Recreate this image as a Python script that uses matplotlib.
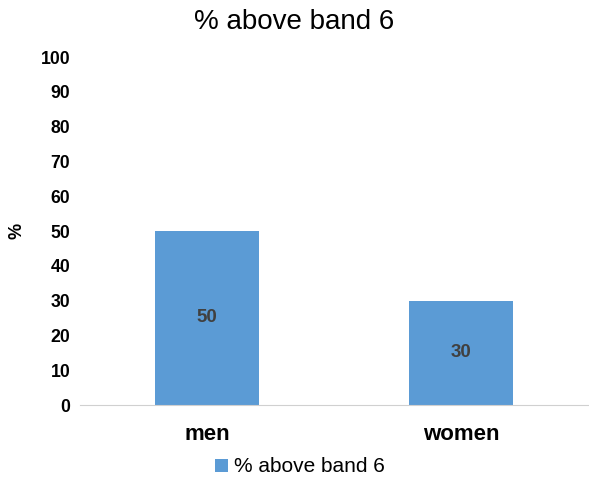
import matplotlib
matplotlib.use("Agg")
import matplotlib.pyplot as plt

categories = ["men", "women"]
values = [50, 30]
series_name = "% above band 6"
yticks = list(range(0, 101, 10))

plt.rcParams['font.family'] = ['Liberation Sans', 'DejaVu Sans']

fig = plt.figure(figsize=(5.89, 4.78), dpi=100)
ax = fig.add_axes([80/589, 1-405/478, 508/589, (405-57)/478])

x = list(range(len(categories)))
bars = ax.bar(x, values, width=0.41, color="#5B9BD5", label=series_name, zorder=2)
for b, v in zip(bars, values):
    ax.text(b.get_x() + b.get_width()/2, v/2, f"{v}", ha="center", va="center",
            fontsize=13.5, fontweight="bold", color="#404040")

ax.set_xlim(-0.5, len(categories) - 0.5)
ax.set_ylim(0, 100)
ax.set_yticks(yticks)
ax.set_yticklabels([str(t) for t in yticks], fontsize=12.7, fontweight="bold")
ax.set_xticks(x)
ax.set_xticklabels(categories, fontsize=16, fontweight="bold")
ax.tick_params(axis="y", length=0, pad=7)
ax.tick_params(axis="x", length=0, pad=14)
for s in ["top", "right", "left"]:
    ax.spines[s].set_visible(False)
ax.spines["bottom"].set_color("#d0d0d0")
ax.set_ylabel("%", fontsize=13, fontweight="bold")
ax.yaxis.set_label_coords((25 - 80) / 508, 0.5)

fig.text(0.5, 1-22/478, "% above band 6", ha="center", va="center", fontsize=20)

leg = fig.legend(handles=[bars], labels=[series_name], loc="center",
                 bbox_to_anchor=(300/589, 1-467/478), frameon=False, fontsize=15,
                 handlelength=0.6, handleheight=0.6, handletextpad=0.3)

fig.savefig("out.png", dpi=100)
